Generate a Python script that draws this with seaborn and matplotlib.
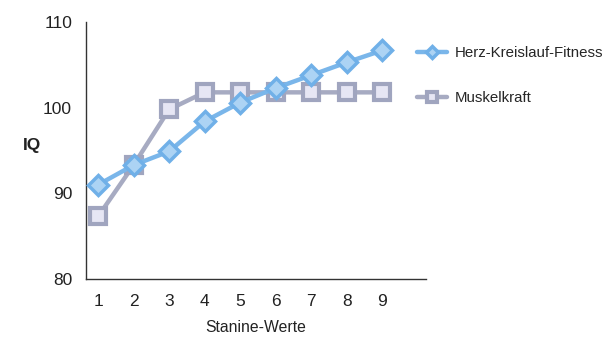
import matplotlib
matplotlib.use("Agg")
import matplotlib.pyplot as plt
import seaborn as sns
import pandas as pd

# Values
stanine = [1, 2, 3, 4, 5, 6, 7, 8, 9]
herz_kreislauf = [91.0, 93.3, 94.9, 98.4, 100.6, 102.3, 103.8, 105.3, 106.7]
muskelkraft = [87.3, 93.3, 99.8, 101.8, 101.8, 101.8, 101.8, 101.8, 101.8]
series_names = ["Herz-Kreislauf-Fitness", "Muskelkraft"]

df = pd.DataFrame({
    "Stanine": stanine * 2,
    "IQ": herz_kreislauf + muskelkraft,
    "Gruppe": [series_names[0]] * len(stanine) + [series_names[1]] * len(stanine),
})

sns.set_style("white")
plt.rcParams["font.family"] = ["Liberation Sans", "DejaVu Sans"]

fig = plt.figure(figsize=(6.12, 3.41), dpi=100)
ax = fig.add_axes([0.1405, 0.182, 0.556, 0.753])

sns.lineplot(data=df[df["Gruppe"] == series_names[1]], x="Stanine", y="IQ",
             color="#a7abc2", lw=3.2, marker="s", markersize=12,
             markerfacecolor="#e6e6f4", markeredgecolor="#a0a5bf",
             markeredgewidth=3, label=series_names[1], ax=ax, zorder=2)
sns.lineplot(data=df[df["Gruppe"] == series_names[0]], x="Stanine", y="IQ",
             color="#7ab6ea", lw=3.2, marker="D", markersize=10,
             markerfacecolor="#acd3f4", markeredgecolor="#70b0e8",
             markeredgewidth=2.5, label=series_names[0], ax=ax, zorder=3)

ax.set_xlim(0.66, 10.24)
ax.set_ylim(80, 110)
ax.set_xticks(stanine)
ax.set_yticks([80, 90, 100, 110])
ax.tick_params(axis="both", length=0, labelsize=12.5, colors="#222222")
ax.tick_params(axis="y", pad=10)
ax.tick_params(axis="x", pad=11)

for side in ["top", "right"]:
    ax.spines[side].set_visible(False)
for side in ["left", "bottom"]:
    ax.spines[side].set_color("#333333")
    ax.spines[side].set_linewidth(1.0)

ax.set_xlabel("Stanine-Werte", fontsize=11.3, labelpad=8, color="#222222")
ax.set_ylabel("IQ", fontsize=12.5, fontweight="bold", rotation=0,
              color="#222222")
ax.yaxis.set_label_coords(-0.16, 0.49)

handles, labels = ax.get_legend_handles_labels()
order = [labels.index(n) for n in series_names]
ax.legend([handles[i] for i in order], [labels[i] for i in order],
          loc="upper left", bbox_to_anchor=(0.66, 0.905),
          bbox_transform=fig.transFigure, frameon=False, fontsize=10.8,
          handlelength=2.0, handletextpad=0.5, labelspacing=2.1,
          markerscale=0.6)

fig.savefig("out.png", dpi=100)
